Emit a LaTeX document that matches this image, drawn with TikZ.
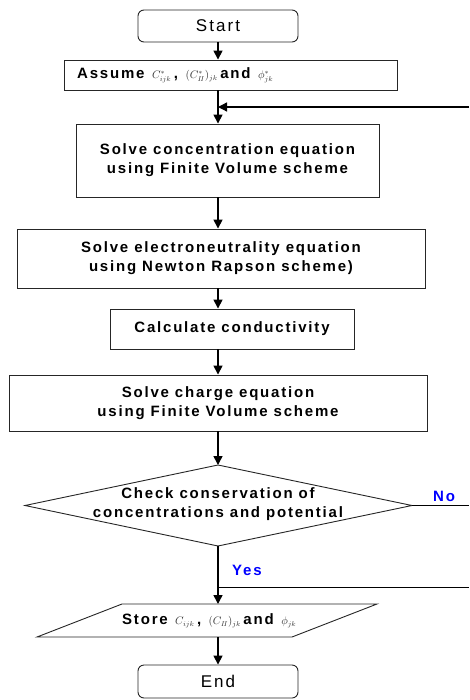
\documentclass[tikz,border=0pt]{standalone}
\usepackage{fontspec}
\setmainfont{Liberation Sans}
\newfontfamily\spfont[LetterSpace=12]{Liberation Sans}
\usetikzlibrary{arrows.meta}
\newcommand{\mfont}{\fontsize{10.5}{13}\selectfont\color{black!80}}
\begin{document}
\begin{tikzpicture}[x=1pt,y=-1pt,
  box/.style={draw=black!85, line width=0.9pt, inner sep=0pt, fill=white,
    font=\spfont\bfseries\fontsize{15}{19}\selectfont, align=center},
  term/.style={box, rounded corners=6pt, font=\spfont\fontsize{17}{20}\selectfont},
  txt/.style={inner sep=0pt, font=\spfont\bfseries\fontsize{15}{19}\selectfont, align=center},
  outline/.style={draw=black!85, line width=0.9pt, fill=white},
  flow/.style={line width=1.6pt, -{Triangle[length=9pt,width=9pt]}},
  fback/.style={line width=1.3pt, -{Triangle[length=9pt,width=9pt]}},
  thinline/.style={line width=0.9pt},
  lbl/.style={inner sep=0pt, text=blue, font=\spfont\bfseries\fontsize{15}{19}\selectfont}]
\useasboundingbox (0,0) rectangle (469,700);
\coordinate (ax) at (218,0);
% nodes
\node[term, minimum width=160pt, minimum height=32pt] (start) at (218,26) {Start};
\node[box, minimum width=333pt, minimum height=30pt] (assume) at (230.5,75) {};
\node[txt, anchor=west] (assumetxt) at (77,75.5)
  {Assume\enspace{\mfont$C^{*}_{ijk}$}\,,\enspace{\mfont$(C^{*}_{I\!I})_{jk}$}\,and\enspace{\mfont$\phi^{*}_{jk}$}};
\node[box, minimum width=303pt, minimum height=73pt] (conc) at (227.5,160.5)
  {Solve concentration equation\\using Finite Volume scheme};
\node[box, minimum width=408pt, minimum height=59pt] (electro) at (221,258.5)
  {Solve electroneutrality equation\\using Newton Rapson scheme)};
\node[box, minimum width=244pt, minimum height=40pt] (calc) at (232,329)
  {Calculate conductivity};
\node[box, minimum width=418pt, minimum height=56pt] (charge) at (218,403)
  {Solve charge equation\\using Finite Volume scheme};
% decision
\coordinate (diatop) at (218,465);
\coordinate (diabot) at (218,546);
\coordinate (dialeft) at (25,505.5);
\coordinate (diaright) at (412,505.5);
\draw[outline] (dialeft) -- (diatop) -- (diaright) -- (diabot) -- cycle;
\node[txt] (dia) at (218,504) {Check conservation of\\concentrations and potential};
% store
\draw[outline] (37,637) -- (122,604) -- (377,604) -- (292,637) -- cycle;
\coordinate (storetop) at (218,604);
\coordinate (storebot) at (218,637);
\node[txt, anchor=west] (storetxt) at (122,620.5)
  {Store\enspace{\mfont$C_{ijk}$}\,,\enspace{\mfont$(C_{I\!I})_{jk}$}\,and\enspace{\mfont$\phi_{jk}$}};
\node[term, minimum width=160pt, minimum height=33pt] (end) at (218,681.5) {End};
% feedback and branch coordinates
\coordinate (fbin) at (469,107);
\coordinate (fb) at (218,107);
\coordinate (noend) at (469,505.5);
\coordinate (yesl) at (218,587);
\coordinate (yesr) at (469,587);
% connectors
\draw[flow] (start.south) -- (ax |- assume.north);
\draw[flow] (ax |- assume.south) -- (ax |- conc.north);
\draw[fback] (fbin) -- (fb);
\draw[flow] (ax |- conc.south) -- (ax |- electro.north);
\draw[flow] (ax |- electro.south) -- (ax |- calc.north);
\draw[flow] (ax |- calc.south) -- (ax |- charge.north);
\draw[flow] (charge.south) -- (diatop);
\draw[flow] (diabot) -- (storetop);
\draw[flow] (storebot) -- (end.north);
\draw[thinline] (diaright) -- (noend);
\draw[thinline] (yesl) -- (yesr);
\node[lbl, anchor=west] (no) at (433,496) {No};
\node[lbl, anchor=west] (yes) at (232,570) {Yes};
\end{tikzpicture}
\end{document}
